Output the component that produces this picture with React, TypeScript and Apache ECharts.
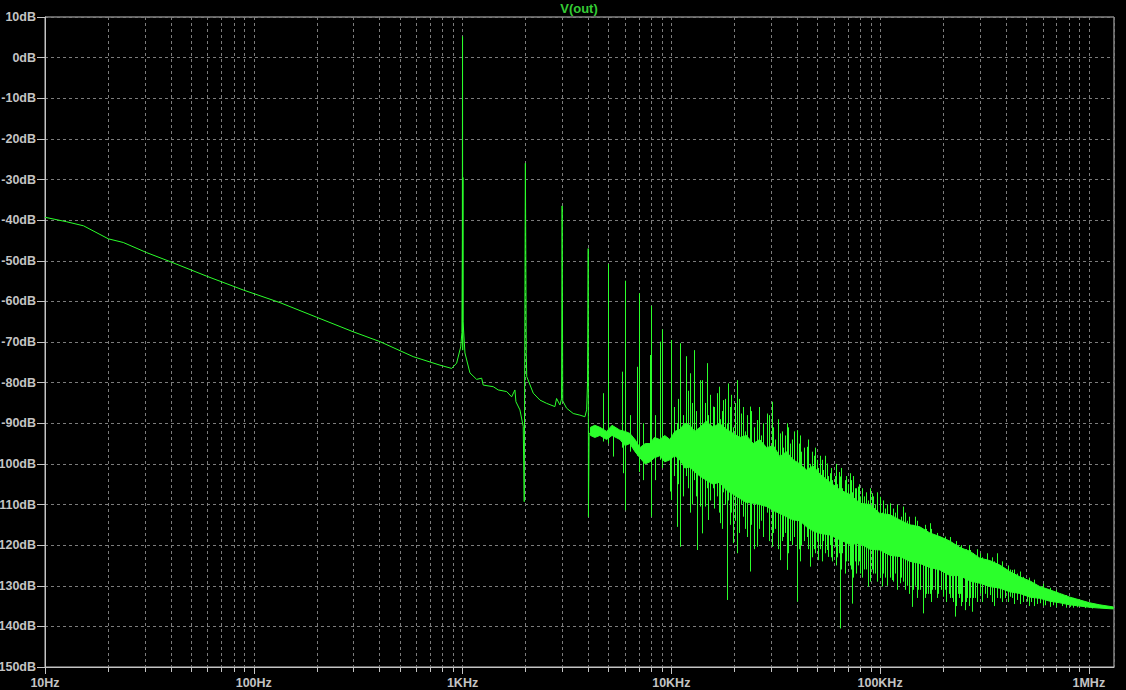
import React, { useEffect, useRef } from "react";
import * as echarts from "echarts";

// ---- axis definitions ----
const xMin = 10;
const xMax = 1.32e6;
const yMin = -150;
const yMax = 10;
const yStep = 10;
const xTickLabels = ["10Hz", "100Hz", "1KHz", "10KHz", "100KHz", "1MHz"];
const decades = [10, 100, 1000, 10000, 100000, 1000000];
const minorMultipliers = [2, 3, 4, 5, 6, 7, 8, 9];
const titleText = "V(out)";

// ---- main trace (Hz, dB) from 10 Hz to ~4.5 kHz ----
const trace: [number, number][] = [
  [10, -39.3], [12.7, -40.4], [15.3, -41.4], [20.1, -44.6], [23.7, -45.5],
  [30.7, -48.0], [39.7, -50.2], [59.5, -53.8], [89.1, -57.2], [133.5, -60.3],
  [200, -63.9], [300, -67.5], [402, -69.9], [580, -73.6], [780, -75.7],
  [887, -76.5], [937, -75.2], [980, -71.2], [993, -67.7], [998, -45],
  [1000, 5.2], [1002, -72], [1004, -29.5], [1006, -65], [1027, -72.7],
  [1085, -77.6], [1168, -79.2], [1235, -78.9], [1256, -80.6], [1403, -81],
  [1483, -81.8], [1627, -82.2], [1719, -83.5], [1782, -81.8], [1802, -84.7],
  [1883, -86.7], [1953, -90.8], [1975, -109.3], [2000, -26], [2020, -72.8],
  [2030, -78.5], [2182, -82.6], [2349, -84.3], [2528, -85.1], [2770, -85.9],
  [2822, -83.9], [2928, -85.5], [2980, -84], [3000, -36.5], [3020, -84.5],
  [3152, -86.3], [3390, -87.6], [3650, -88], [3857, -88.4], [3930, -86.7],
  [3970, -80], [4000, -47], [4010, -113], [4040, -92.5], [4227, -92.5],
  [4550, -91.2],
];

// ---- dense noise core: [Hz, upper dB, lower dB] ----
const band: [number, number, number][] = [
  [4100, -91, -93], [4300, -90.5, -93.5], [4550, -91, -93], [4900, -92, -94],
  [5200, -90.5, -93], [5673, -91.7, -94], [6000, -92, -95.5], [6335, -92.5, -95],
  [6700, -94, -97], [7073, -96, -98.5], [7500, -95, -100], [7898, -95, -99.5],
  [8300, -93.5, -98.5], [8818, -94, -98], [9300, -93, -99.5], [9846, -94, -99],
  [10400, -92, -98], [10994, -91.5, -99], [11600, -90, -101], [12276, -90.5, -100.8],
  [12950, -92, -102], [13710, -91, -103], [14700, -89.5, -104], [15874, -91, -105],
  [17000, -90, -104.5], [18405, -91.5, -106.5], [19800, -92.5, -107.5], [21306, -93.5, -108.5],
  [22900, -93, -109.5], [24690, -95, -109.7], [26500, -94, -110], [28600, -96, -110.5],
  [30800, -95.5, -111.5], [33113, -98.2, -112.2], [35600, -97, -113], [38360, -99, -113.8],
  [41300, -100, -114], [44450, -101.5, -115.5], [47800, -100.5, -116.5], [51490, -102.5, -117.1],
  [57500, -104.5, -117.5], [64210, -106.4, -118.7], [71700, -107.5, -119.8], [80060, -109.7, -119.6],
  [89400, -110, -121], [99770, -112.2, -121.2], [111400, -112.5, -122.5], [124400, -113.8, -122.8],
  [138900, -115, -124], [155100, -115.5, -124.5], [173200, -117, -125.5], [193400, -117.9, -126.1],
  [216000, -119, -127.5], [241100, -120.6, -127.5], [269200, -121.5, -128.8], [300600, -123.2, -129.4],
  [335700, -123.8, -130.2], [374800, -124.9, -130.6], [418500, -126.5, -131.5], [467200, -127.8, -131.9],
  [521700, -128.8, -132.8], [582500, -130.2, -133.1], [650000, -131, -133.8], [726200, -131.9, -134.2],
  [811000, -132.8, -134.7], [905400, -133.5, -135], [1010000, -134.2, -135.3], [1128800, -134.7, -135.5],
  [1308000, -135.2, -135.7],
];

// ---- spikes: [Hz, top dB, bottom dB] ----
const spikes: [number, number, number][] = [
  [4720, -82.6, -94.5], [5000, -50.8, -95], [5270, -92, -98.2], [5781, -77.3, -96],
  [5880, -92, -102.3], [6000, -54.9, -111.4], [6335, -88, -97], [6820, -76.1, -98],
  [7000, -58, -102], [7300, -90, -104], [7900, -73.2, -99], [8000, -61.1, -113],
  [8400, -88, -104], [8818, -69.9, -99], [9000, -66.9, -101], [9846, -95, -106.8],
  [10000, -69.5, -108.9], [10300, -86, -103], [10600, -90, -115.5], [10800, -84, -105],
  [10994, -76.1, -100], [11000, -70.3, -120.4], [11400, -88, -108], [11750, -73.5, -103],
  [12000, -82, -106], [12276, -77.7, -112], [12600, -85, -110], [12880, -72, -104],
  [13100, -87, -108], [13300, -98, -121.2], [13710, -79.4, -110.5], [13970, -79.4, -117.1],
  [14100, -84, -112], [14500, -85, -110.5], [14760, -75.2, -106], [15020, -88, -113.8],
  [15400, -83, -109], [15874, -85.9, -106], [16100, -86, -111], [16480, -82.6, -108],
  [16900, -81, -112], [17090, -89, -114.6], [17400, -87, -116], [17730, -84.3, -107],
  [18100, -84, -110], [18405, -90, -133.5], [18730, -80.2, -109], [19100, -86, -115],
  [19400, -83, -112], [19790, -91, -119.5], [20100, -85, -114], [20540, -79.4, -122],
  [21000, -84, -117], [21670, -87.6, -110], [22000, -86, -113], [22500, -92, -116],
  [23000, -88, -118], [23790, -85.9, -126.5], [24200, -87, -115], [25000, -91, -121],
  [25640, -89.2, -120.4], [26300, -86, -116], [27000, -93, -114], [27600, -90, -118],
  [28600, -87.6, -112], [29300, -88, -119], [30220, -84.7, -120.4], [30800, -91, -117],
  [31500, -94, -116], [32300, -89, -121], [33113, -92.5, -123.7], [33800, -92, -119],
  [34300, -96, -118], [35000, -93, -117], [35660, -90, -126.1], [36300, -91, -122],
  [37000, -95, -119], [38000, -94, -120], [38900, -92, -118], [39820, -91.7, -133.9],
  [40800, -95, -121], [41400, -93, -124], [42000, -97, -120], [43000, -96, -119],
  [44450, -95.8, -118], [45200, -94, -121], [46110, -100, -125.3], [47000, -97, -123],
  [48000, -98, -121], [49000, -96, -122], [49650, -99, -119], [50530, -101, -123.7],
  [51500, -98, -121], [52500, -99, -124], [53390, -101.5, -119], [54500, -98, -122],
  [55420, -99.9, -121.2], [56410, -103, -122.9], [57480, -102.3, -120], [58200, -101, -123],
  [59000, -104, -124], [60750, -103, -120.4], [61500, -100, -125], [62500, -105, -123],
  [63300, -102, -122], [64210, -103.1, -140.5], [65000, -101, -126], [66000, -106, -122],
  [67830, -104, -127], [68800, -103, -124], [70000, -105, -124], [71700, -102.3, -125],
  [72500, -104, -126], [73030, -107, -134.4], [74200, -103, -128], [75500, -106, -124],
  [77000, -106, -127], [78560, -105.6, -125], [79500, -105, -124], [80060, -108, -127],
  [82000, -106, -128], [83500, -108, -126], [85500, -107, -126], [87700, -109, -130.2],
  [89500, -106, -129], [91070, -107.2, -126], [93000, -108, -127], [95000, -110, -127],
  [97000, -107, -129], [99770, -108.1, -128], [101700, -112, -130.2], [103500, -109, -127],
  [106000, -111, -128], [108500, -110, -130], [111400, -109.7, -128], [113500, -113, -128.6],
  [115500, -111, -129], [118000, -112, -127], [121000, -110, -131], [124400, -114, -129.4],
  [126500, -113, -128], [129000, -110.5, -129], [131500, -112, -131], [134000, -114, -130],
  [137500, -113, -132], [141600, -115, -135.2], [144000, -115, -131], [146800, -113, -130],
  [149500, -114, -133], [152000, -116, -131], [156000, -116, -131], [160900, -117, -136.8],
  [163500, -115, -133], [166000, -116, -132], [170000, -117, -132], [173200, -114.6, -132],
  [175500, -116, -134], [178000, -118, -131], [183000, -118, -131], [186500, -117, -133],
  [190000, -119, -132], [196000, -118, -131], [200500, -119, -132.7], [204300, -117.9, -131],
  [208000, -119, -134], [213000, -120, -132], [216500, -118, -133], [220000, -121, -133],
  [224500, -120, -134], [228100, -121, -137.6], [231500, -119, -135], [235000, -120, -132],
  [238000, -121, -133], [241100, -120.4, -132], [245000, -120, -135], [248000, -122, -134],
  [254700, -122, -136], [258000, -121, -134], [262000, -122, -133], [266000, -120, -135],
  [269200, -121.2, -133], [274300, -123, -136.4], [279000, -122, -133], [285000, -123, -133],
  [292000, -121, -134], [300600, -122, -131.9], [309000, -123, -134], [318000, -124, -132],
  [327000, -122, -133], [335700, -124, -132.3], [345000, -123, -134], [352000, -124, -135],
  [361400, -122, -133], [374800, -125, -133.1], [385000, -124, -134], [398000, -126, -133],
  [410000, -125, -134], [418500, -126, -132.7], [426400, -126.1, -133], [440000, -126, -134.5],
  [452000, -127, -133.5], [468000, -126.5, -134.5], [484500, -127.8, -134], [502900, -129, -133.9],
  [515000, -128, -135], [530000, -129, -134], [545000, -128.5, -135], [561700, -130.2, -134.5],
  [582500, -130.5, -134.3], [600000, -129.5, -135], [620000, -131, -134.8], [650000, -130.5, -135.2],
  [674500, -131.5, -134.8], [700000, -131, -135.3], [740000, -132, -135], [775000, -132.3, -135.4],
  [810900, -133.1, -135.2], [840000, -133, -135.4], [880000, -133.6, -135.3], [960000, -134, -135.5],
  [1040000, -134.5, -135.6],
];

// ---- styling ----
const bg = "#000000";
const green = "#2bff2b";
const titleGreen = "#35cc35";
const axisColor = "#c4c4c4";
const gridColor = "#7c7c7c";
const font = "Liberation Sans, Arial, sans-serif";

const minorFreqs: number[] = [];
decades.forEach((d) => {
  minorMultipliers.forEach((m) => {
    const f = d * m;
    if (f < xMax) minorFreqs.push(f);
  });
});

const crisp = (v: number) => Math.round(v) + 0.5;

function buildOption() {
  return {
    animation: false,
    backgroundColor: bg,
    grid: {
      left: 45,
      right: 12,
      top: 17,
      bottom: 23,
      containLabel: false,
      outerBoundsMode: "none",
      show: true,
      borderColor: axisColor,
      borderWidth: 1,
      backgroundColor: "transparent",
    },
    graphic: [
      {
        type: "text",
        x: 579,
        y: 8,
        style: {
          text: titleText,
          fill: titleGreen,
          font: `bold 13px ${font}`,
          textAlign: "center",
          textVerticalAlign: "middle",
        },
      },
    ],
    xAxis: {
      type: "log",
      logBase: 10,
      min: xMin,
      max: xMax,
      splitNumber: 5,
      axisLine: { show: true, onZero: false, lineStyle: { color: axisColor, width: 1 } },
      axisTick: { show: true, length: 7, lineStyle: { color: axisColor } },
      axisLabel: {
        color: axisColor,
        fontFamily: font,
        fontWeight: "bold",
        fontSize: 12.5,
        margin: 9,
        showMaxLabel: false,
        formatter: (v: number) => {
          const l = Math.log10(v);
          const r = Math.round(l);
          if (Math.abs(l - r) > 0.01) return "";
          return xTickLabels[r - 1] ?? "";
        },
      },
      splitLine: { show: true, lineStyle: { color: gridColor, type: [3, 3], width: 1 } },
      minorTick: { show: false },
    },
    yAxis: {
      type: "value",
      min: yMin,
      max: yMax,
      interval: yStep,
      axisLine: { show: true, onZero: false, lineStyle: { color: axisColor, width: 1 } },
      axisTick: { show: true, length: 8, lineStyle: { color: axisColor } },
      axisLabel: {
        color: axisColor,
        fontFamily: font,
        fontWeight: "bold",
        fontSize: 12.5,
        margin: 9,
        formatter: (v: number) => `${v}dB`,
      },
      splitLine: { show: true, lineStyle: { color: gridColor, type: [3, 3], width: 1 } },
    },
    series: [
      {
        type: "custom",
        name: "minorGrid",
        silent: true,
        z: 1,
        clip: false,
        data: minorFreqs.map((f) => [f, yMin]),
        encode: { x: 0, y: 1 },
        renderItem: (_p: any, api: any) => {
          const f = api.value(0);
          const t = api.coord([f, yMax]);
          const b = api.coord([f, yMin]);
          const x = crisp(t[0]);
          return {
            type: "group",
            children: [
              {
                type: "line",
                shape: { x1: x, y1: t[1], x2: x, y2: b[1] },
                style: { stroke: gridColor, lineWidth: 1, lineDash: [3, 3] },
              },
              {
                type: "line",
                shape: { x1: x, y1: b[1], x2: x, y2: b[1] + 5 },
                style: { stroke: axisColor, lineWidth: 1 },
              },
            ],
          };
        },
      },
      {
        type: "custom",
        name: "noiseCore",
        silent: true,
        z: 3,
        clip: true,
        data: [[band[0][0], band[0][1]]],
        encode: { x: 0, y: 1 },
        renderItem: (params: any, api: any) => {
          if (params.dataIndex !== 0) return null;
          const pts: number[][] = [];
          band.forEach((b) => pts.push(api.coord([b[0], b[1]])));
          for (let i = band.length - 1; i >= 0; i--) pts.push(api.coord([band[i][0], band[i][2]]));
          return {
            type: "polygon",
            shape: { points: pts },
            style: { fill: green, stroke: green, lineWidth: 1 },
          };
        },
      },
      {
        type: "custom",
        name: "spikes",
        silent: true,
        z: 4,
        clip: true,
        data: spikes,
        encode: { x: 0, y: [1, 2] },
        renderItem: (_p: any, api: any) => {
          const f = api.value(0);
          const a = api.coord([f, api.value(1)]);
          const b = api.coord([f, api.value(2)]);
          const x = crisp(a[0]);
          return {
            type: "line",
            shape: { x1: x, y1: a[1], x2: x, y2: b[1] },
            style: { stroke: green, lineWidth: 1 },
          };
        },
      },
      {
        type: "line",
        name: "V(out)",
        z: 5,
        data: trace,
        showSymbol: false,
        symbol: "none",
        clip: true,
        lineStyle: { color: green, width: 1 },
        itemStyle: { color: green },
      },
    ],
  };
}

export default function App() {
  const ref = useRef<HTMLDivElement>(null);
  useEffect(() => {
    if (!ref.current) return;
    const chart = echarts.init(ref.current, null, { renderer: "svg" });
    chart.setOption(buildOption() as any);
    return () => chart.dispose();
  }, []);
  return (
    <div
      ref={ref}
      style={{ position: "fixed", left: 0, top: 0, width: 1126, height: 690, background: bg }}
    />
  );
}
